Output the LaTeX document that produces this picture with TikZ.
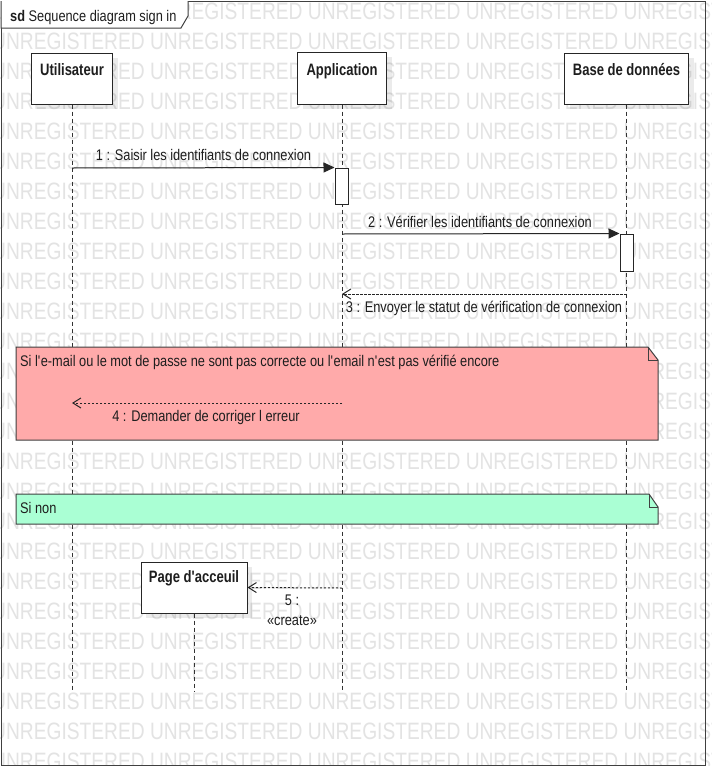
\documentclass[tikz,border=0pt]{standalone}
\usepackage{fontspec}
\setmainfont{Liberation Sans}[FakeStretch=0.83]
\newfontfamily\hdrfont{Liberation Sans}[FakeStretch=0.79]
\newfontfamily\wmfont{Liberation Sans}[FakeStretch=0.81]
\usetikzlibrary{arrows.meta,shadows}
\newcommand{\aq}{\textquotesingle}
\definecolor{pinkfill}{RGB}{255,170,170}
\definecolor{greenfill}{RGB}{170,255,212}
\definecolor{txt}{RGB}{30,30,30}
\begin{document}
\begin{tikzpicture}[x=1pt,y=-1pt,
  wm/.style={font=\wmfont\fontsize{23.7}{26}\selectfont, text=black!11, anchor=base west, inner sep=0},
  lbl/.style={font=\fontsize{15.4}{18}\selectfont, text=txt, anchor=base, inner sep=0},
  hdr/.style={font=\hdrfont\bfseries\fontsize{16.5}{19}\selectfont, text=txt, anchor=base, inner sep=0},
  lbox/.style={draw=black!85, line width=1pt, fill=white, inner sep=0,
    drop shadow={shadow xshift=5pt, shadow yshift=-5pt, opacity=0.08, fill=black}},
  actbox/.style={draw=black!85, line width=1pt, fill=white, inner sep=0, minimum width=13pt},
  lifeline/.style={draw=black!80, line width=0.9pt, dash pattern=on 4pt off 3pt},
  syncmsg/.style={draw=black!85, line width=1pt, -{Triangle[length=11pt,width=10pt]}},
  retmsg/.style={draw=black!85, line width=1pt, dash pattern=on 2.2pt off 1.8pt, -{Straight Barb[length=8pt,width=10pt]}},
  fragline/.style={draw=black!75, line width=1pt}
]
\useasboundingbox (0,0) rectangle (712,766);
\fill[white] (0,0) rectangle (712,766);
% watermark
\begin{scope}
\clip (0,0) rectangle (712,766);
\foreach \k in {0,...,25}{
  \node[wm] (wm\k) at ({-8},{19+30*\k}) {UNREGISTERED UNREGISTERED UNREGISTERED UNREGISTERED UNREGISTERED};
}
\end{scope}
% frame
\draw[draw=black!75, line width=1pt] (1,1) rectangle (705,765);

% lifeline heads
\node[lbox, minimum width=81pt, minimum height=51pt] (u) at (72,78.5) {};
\node[lbox, minimum width=89pt, minimum height=52pt] (app) at (342,78) {};
\node[lbox, minimum width=124pt, minimum height=51pt] (bd) at (626.5,78.5) {};
\node[hdr] (ut) at (72,75.5) {Utilisateur};
\node[hdr] (appt) at (342,75) {Application};
\node[hdr] (bdt) at (626.5,75.5) {Base de données};

% lifeline ends
\coordinate (uend) at (72,692);
\coordinate (append) at (342,692);
\coordinate (bdend) at (626.5,692);
\draw[lifeline] (u.south) -- (uend);
\draw[lifeline] (app.south) -- (append);
\draw[lifeline] (bd.south) -- (bdend);

% created object
\node[lbox, minimum width=106pt, minimum height=51pt] (page) at (194,587.5) {};
\node[hdr] (paget) at (194,582.5) {Page d'acceuil};
\coordinate (pageend) at (194,692);
\draw[lifeline] (page.south) -- (pageend);

% activations
\node[actbox, minimum height=36pt] (act1) at (341.5,186) {};
\node[actbox, minimum height=37pt] (act2) at (626.5,252.5) {};

% message 1
\coordinate (m1s) at (72,168);
\draw[syncmsg] (m1s) -- (act1.north west);
\node[lbl] (l1) at (203.5,160) {1 : Saisir les identifiants de connexion};
% message 2
\coordinate (m2s) at (342,234);
\draw[syncmsg] (m2s) -- (act2.north west);
\node[lbl] (l2) at (480,227) {2 : Vérifier les identifiants de connexion};
% message 3
\coordinate (m3s) at (626.5,294);
\coordinate (m3e) at (342,294);
\draw[retmsg] (m3s) -- (m3e);
\node[lbl] (l3) at (484,312) {3 : Envoyer le statut de vérification de connexion};

% pink fragment
\draw[fragline, fill=pinkfill] (16,347) -- (648,347) -- (658,360) -- (658,440) -- (16,440) -- cycle;
\draw[fragline] (648,347) -- (648,360) -- (658,360);
\node[lbl, anchor=base west] (c1) at (20,366) {Si l\aq e-mail ou le mot de passe ne sont pas correcte ou l\aq email n\aq est pas vérifié encore};
% message 4
\coordinate (m4s) at (342,403);
\coordinate (m4e) at (72,403);
\draw[retmsg] (m4s) -- (m4e);
\node[lbl] (l4) at (206,421) {4 : Demander de corriger l erreur};

% green fragment
\draw[fragline, fill=greenfill] (16,494) -- (649,494) -- (658,507) -- (658,524) -- (16,524) -- cycle;
\draw[fragline] (649,494) -- (649,507) -- (658,507);
\node[lbl, anchor=base west] (c2) at (20,513) {Si non};

% message 5
\coordinate (m5s) at (342,588);
\draw[retmsg] (m5s) -- (page.east);
\node[lbl] (l5a) at (292,605) {5 :};
\node[lbl] (l5b) at (292,625) {«create»};

% sd label
\draw[draw=black!75, line width=1pt, fill=white] (1,1) -- (1,28) -- (181,28) -- (188,16) -- (188,1);
\node[lbl, anchor=base west] (sd) at (10,21.5) {\textbf{sd} Sequence diagram sign in};
\end{tikzpicture}
\end{document}
